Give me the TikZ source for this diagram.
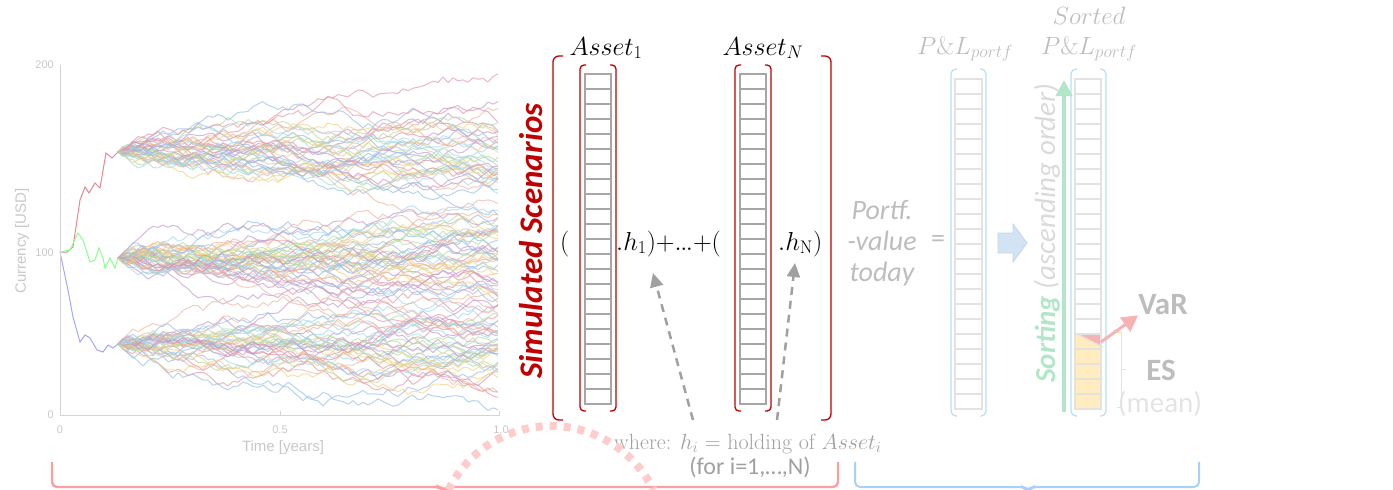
\RequirePackage{fix-cm}
\documentclass[tikz,border=0pt]{standalone}
\usepackage{fontspec}
\usetikzlibrary{arrows.meta}
\newfontfamily\calib{Carlito}
\newfontfamily\arialf{Liberation Sans}

\definecolor{axisgray}{HTML}{D4D4D4}
\definecolor{lblgray}{HTML}{C8C8C8}
\definecolor{simred}{HTML}{C00000}
\definecolor{cellgray}{HTML}{A6A6A6}
\definecolor{cellpale}{HTML}{E2E2E2}
\definecolor{brblue}{HTML}{B4E0F6}
\definecolor{notegray}{HTML}{A0A0A0}
\definecolor{portgray}{HTML}{BDBDBD}
\definecolor{sortgreen}{HTML}{B2E6C8}
\definecolor{ascgray}{HTML}{DADADA}
\definecolor{blockblue}{HTML}{D2E3F3}
\definecolor{blockedge}{HTML}{C2D6EC}
\definecolor{tailyellow}{HTML}{FFECBF}
\definecolor{varred}{HTML}{F7B3B3}
\definecolor{esyellow}{HTML}{FFE0A0}
\definecolor{meangray}{HTML}{E4E4E4}
\definecolor{bracered}{HTML}{FF9E9E}
\definecolor{braceblue}{HTML}{A9D1F7}
\definecolor{arcpink}{HTML}{FFCCCC}
% path colours of the simulated scenarios
\definecolor{col0}{HTML}{E496A4}
\definecolor{col1}{HTML}{96BEE8}
\definecolor{col2}{HTML}{F0D284}
\definecolor{col3}{HTML}{C698CC}
\definecolor{col4}{HTML}{B6DA9C}
\definecolor{col5}{HTML}{A2D6F0}
\definecolor{col6}{HTML}{EEB4A0}

\begin{document}
\begin{tikzpicture}[x=1pt,y=-1pt,
  axisline/.style={draw=axisgray,line width=1},
  ticklbl/.style={font=\arialf\fontsize{11}{13}\selectfont,text=lblgray,inner sep=0},
  axislbl/.style={font=\arialf\fontsize{15}{17}\selectfont,text=lblgray,inner sep=0},
  walk/.style={line width=1,opacity=0.68,line join=round},
  redbr/.style={draw=simred,line width=1.3,rounded corners=6},
  bluebr/.style={draw=brblue,line width=1.2,rounded corners=5},
  acell/.style={draw=cellgray,line width=2.2},
  pcell/.style={draw=cellpale,line width=2.2},
  holdarrow/.style={draw=notegray,line width=2.5,dash pattern=on 8pt off 6pt,
    -{Triangle[length=14pt,width=13pt]}},
  mathlbl/.style={inner sep=0,font=\fontsize{26}{30}\selectfont},
  hdrlbl/.style={inner sep=0,text=portgray,font=\fontsize{25}{30}\selectfont},
  bigbrace/.style={line width=2.4,rounded corners=5},
]
\useasboundingbox (0,0) rectangle (1393,490);

% ---------- chart of simulated price paths ----------
\pgfmathsetseed{11}
\foreach \ys/\n in {152/40,258/46,344/40}{
  \foreach \p in {1,...,\n}{
    \pgfmathtruncatemacro\ci{mod(\p,7)}
    \draw[walk,col\ci] (118,\ys) \foreach \k in {1,...,76}{ -- ++(5,{5.5*rand}) };
  }
}
\draw[line width=1,color=col0!90!red] (60,252) -- (67,252) -- (73,247) -- (80,200) -- (85,187)
  -- (89,193) -- (95,183) -- (100,188) -- (106,153) -- (112,158) -- (118,152);
\draw[line width=1,color=green!45] (60,252) -- (70,250) -- (78,233) -- (83,240) -- (90,262)
  -- (95,260) -- (99,248) -- (103,258) -- (105,268) -- (110,258) -- (115,268) -- (118,258);
\draw[line width=1,color=blue!35] (60,252) -- (68,290) -- (73,317) -- (80,342) -- (85,335)
  -- (90,338) -- (97,350) -- (103,352) -- (108,345) -- (113,348) -- (118,344);

\draw[axisline] (60,65) -- (60,415) -- (500,415);
\draw[axisline] (280,415) -- (280,411) (499,415) -- (499,411);
\node[ticklbl,anchor=east] (y200) at (54,65) {200};
\node[ticklbl,anchor=east] (y100) at (54,253) {100};
\node[ticklbl,anchor=east] (y0) at (54,415) {0};
\node[ticklbl] (x0) at (60,430) {0};
\node[ticklbl] (x05) at (280,430) {0.5};
\node[ticklbl] (x10) at (501,430) {1.0};
\node[axislbl] (tlbl) at (283,448) {Time [years]};
\node[axislbl,rotate=90] (clbl) at (22,241) {Currency [USD]};

% ---------- scenario matrix ----------
\node[inner sep=0,rotate=90,text=simred,font=\calib\bfseries\itshape\fontsize{33}{36}\selectfont]
  (sim) at (531,241) {Simulated Scenarios};

\draw[redbr] (563,56) -- (553,56) -- (553,420) -- (563,420);
\draw[redbr] (821,56) -- (831,56) -- (831,420) -- (821,420);

\foreach \i in {0,...,21}{
  \draw[acell] (585,{74+15*\i}) rectangle ++(26,15);
  \draw[acell] (740,{74+15*\i}) rectangle ++(26,15);
}
\draw[redbr,rounded corners=4] (586,65) -- (580,65) -- (580,411) -- (586,411);
\draw[redbr,rounded corners=4] (610,65) -- (616,65) -- (616,411) -- (610,411);
\draw[redbr,rounded corners=4] (741,65) -- (735,65) -- (735,411) -- (741,411);
\draw[redbr,rounded corners=4] (765,65) -- (771,65) -- (771,411) -- (765,411);

\node[mathlbl,anchor=base] (a1) at (606,55) {$Asset_1$};
\node[mathlbl,anchor=base] (aN) at (763,55) {$Asset_N$};

\node[mathlbl,anchor=base west] (lp) at (560,250) {$($};
\node[mathlbl,anchor=base west] (h1) at (616,250)
  {$.h_1){+}\mathord{.}\mkern-1mu\mathord{.}\mkern-1mu\mathord{.}{+}($};
\node[mathlbl,anchor=base west] (hN) at (778,250) {$.h_{\mathrm{N}})$};

\node[inner sep=0,anchor=base west,text=notegray,font=\fontsize{22}{26}\selectfont]
  (where) at (614,449) {where: $h_i$ = holding of $Asset_i$};
\node[inner sep=0,anchor=base,text=notegray,font=\calib\fontsize{24}{28}\selectfont]
  (fori) at (750,474) {(for i=1,…,N)};

\coordinate (t1) at (693,420);
\coordinate (e1) at (653,273);
\coordinate (t2) at (777,420);
\coordinate (e2) at (795,263);
\draw[holdarrow] (t1) -- (e1);
\draw[holdarrow] (t2) -- (e2);

% ---------- portfolio P&L ----------
\node[inner sep=0,align=center,text=portgray,font=\calib\itshape\fontsize{28}{31}\selectfont]
  (pv) at (882,243) {Portf.\\-value\\today};
\node[inner sep=0,text=portgray,font=\calib\fontsize{28}{30}\selectfont] (eq) at (938,241) {=};

\node[hdrlbl,anchor=base] (pl1) at (965,54) {$P\mathrm{\&}L_{portf}$};
\node[hdrlbl,anchor=base] (srt) at (1089,24) {$Sorted$};
\node[hdrlbl,anchor=base] (pl2) at (1089,54) {$P\mathrm{\&}L_{portf}$};

% tail of the sorted distribution
\fill[tailyellow] (1076,334) rectangle (1101,409);
\fill[varred] (1077,334) -- (1101,334) -- (1101,346) -- cycle;
\draw[cellpale,line width=1.2] (1077,334) -- (1103,347);

\foreach \i in {0,...,21}{
  \draw[pcell] (955,{79+15*\i}) rectangle ++(27,15);
  \draw[pcell] (1075,{79+15*\i}) rectangle ++(26,15);
}
\draw[bluebr] (957,69) -- (951,69) -- (951,416) -- (957,416);
\draw[bluebr] (980,69) -- (986,69) -- (986,416) -- (980,416);
\draw[bluebr] (1077,69) -- (1071,69) -- (1071,416) -- (1077,416);
\draw[bluebr] (1100,69) -- (1106,69) -- (1106,416) -- (1100,416);

\draw[fill=blockblue,draw=blockedge,line width=0.8] (998,233) -- (1013,233) -- (1013,224)
  -- (1027,243) -- (1013,262) -- (1013,253) -- (998,253) -- cycle;

\coordinate (s0) at (1064,412);
\coordinate (s1) at (1064,80);
\draw[sortgreen,line width=4,-{Triangle[length=16pt,width=16pt]}] (s0) -- (s1);
\node[inner sep=0,rotate=90,font=\calib\itshape\fontsize{29}{32}\selectfont] (sorting) at (1047,233)
  {\textcolor{sortgreen}{\bfseries Sorting} \textcolor{ascgray}{(ascending order)}};

\node[inner sep=0,text=portgray,font=\calib\bfseries\fontsize{31}{34}\selectfont] (var) at (1163,305) {VaR};
\node[inner sep=0,text=portgray,font=\calib\bfseries\fontsize{31}{34}\selectfont] (es) at (1161,370) {ES};
\node[inner sep=0,text=meangray,font=\calib\fontsize{29}{32}\selectfont] (mean) at (1160,404) {(mean)};

\coordinate (v0) at (1101,342);
\draw[varred,line width=3,-{Triangle[length=16pt,width=17pt]}] (v0) -- (var.south west);
\draw[esyellow,line width=1] (1117,332) -- (1121,332) -- (1121,407) -- (1117,407)
  (1121,369) -- (1126,369);

% ---------- bottom braces ----------
\draw[bigbrace,bracered] (52,462) -- (52,487) -- (440,487) -- (444,491) -- (448,487)
  -- (838,487) -- (838,462);
\draw[bigbrace,braceblue,line width=2] (855,462) -- (855,487) -- (1024,487) -- (1028,491)
  -- (1032,487) -- (1199,487) -- (1199,462);
\draw[arcpink,line width=8,dash pattern=on 7pt off 7pt] (551,540) ++(206:114)
  arc[start angle=206,end angle=334,radius=114];
\end{tikzpicture}
\end{document}
